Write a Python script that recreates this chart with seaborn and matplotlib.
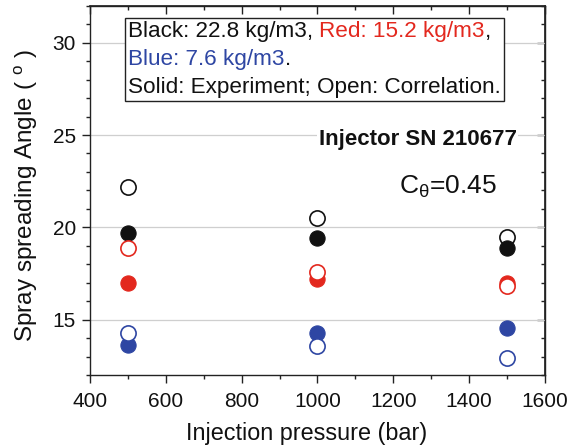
import matplotlib
matplotlib.use("Agg")
import matplotlib.pyplot as plt
import seaborn as sns
import pandas as pd
from matplotlib.offsetbox import TextArea, HPacker, VPacker, AnchoredOffsetbox
from matplotlib.ticker import MultipleLocator

# ---- data ----
pressure = [500, 1000, 1500]
exp_black = [19.7, 19.4, 18.9]
cor_black = [22.2, 20.5, 19.5]
exp_red = [17.0, 17.2, 17.0]
cor_red = [18.9, 17.6, 16.8]
exp_blue = [13.6, 14.3, 14.55]
cor_blue = [14.3, 13.55, 12.9]

x_ticks = [400, 600, 800, 1000, 1200, 1400, 1600]
y_ticks = [15, 20, 25, 30]

BLACK = "#111111"
RED = "#e3281e"
BLUE = "#2e46a3"

sns.set_theme(style="white")
plt.rcParams["font.family"] = ["Liberation Sans", "DejaVu Sans"]
plt.rcParams["mathtext.fontset"] = "custom"
plt.rcParams["mathtext.rm"] = "Liberation Sans"

fig = plt.figure(figsize=(5.73, 4.48), dpi=100)
ax = fig.add_axes([0.157, 0.163, 0.794, 0.824])

series = [
    (cor_black, BLACK, False),
    (exp_black, BLACK, True),
    (exp_red, RED, True),
    (cor_red, RED, False),
    (exp_blue, BLUE, True),
    (cor_blue, BLUE, False),
]
for vals, col, solid in series:
    df = pd.DataFrame({"p": pressure, "a": vals})
    sns.scatterplot(data=df, x="p", y="a", ax=ax, s=120, marker="o",
                    facecolor=col if solid else "white",
                    edgecolor=col, linewidth=1.2 if not solid else 0.8,
                    zorder=3, legend=False)

ax.set_xlim(400, 1600)
ax.set_ylim(12, 32)
ax.set_xticks(x_ticks)
ax.set_yticks(y_ticks)
ax.xaxis.set_minor_locator(MultipleLocator(100))
ax.yaxis.set_minor_locator(MultipleLocator(1))
ax.yaxis.grid(True, color="#cfcfcf", linewidth=0.9)
ax.set_axisbelow(True)

for sp in ax.spines.values():
    sp.set_color("#222222")
    sp.set_linewidth(1.0)

ax.tick_params(axis="both", which="major", direction="out", length=6, width=1,
               labelsize=15, color="#222222", labelcolor="#111111",
               bottom=True, left=True, pad=4)
ax.tick_params(axis="x", which="major", pad=6)
ax.tick_params(axis="both", which="minor", direction="out", length=3, width=1,
               color="#222222", bottom=True, left=True)

# inward ticks on top and right
sx = ax.secondary_xaxis("top")
sx.set_xticks(x_ticks)
sx.xaxis.set_minor_locator(MultipleLocator(100))
sx.tick_params(which="major", direction="in", length=6, width=1, labeltop=False, color="#222222")
sx.tick_params(which="minor", direction="in", length=3, width=1, color="#222222")
sy = ax.secondary_yaxis("right")
sy.set_yticks(y_ticks)
sy.yaxis.set_minor_locator(MultipleLocator(1))
sy.tick_params(which="major", direction="in", length=6, width=1, labelright=False, color="#222222")
sy.tick_params(which="minor", direction="in", length=3, width=1, color="#222222")

ax.set_xlabel("Injection pressure (bar)", fontsize=16.8, color="#111111")
ax.xaxis.set_label_coords(0.477, -0.128)
ax.set_ylabel("Spray spreading Angle ( $^{\\mathregular{o}}$ )", fontsize=17.5,
              color="#111111")
ax.yaxis.set_label_coords(-0.11, 0.486)

# legend-like box
fs = 16.2
def ta(s, c):
    return TextArea(s, textprops=dict(color=c, fontsize=fs))

line1 = HPacker(children=[ta("Black: 22.8 kg/m3, ", BLACK), ta("Red: 15.2 kg/m3", RED), ta(",", BLACK)],
                pad=0, sep=0)
line2 = HPacker(children=[ta("Blue: 7.6 kg/m3", BLUE), ta(".", BLACK)], pad=0, sep=0)
line3 = HPacker(children=[ta("Solid: Experiment; Open: Correlation.", BLACK)], pad=0, sep=0)
box = VPacker(children=[line1, line2, line3], pad=0, sep=5, align="left")
anch = AnchoredOffsetbox(loc="upper left", child=box, pad=0.2, borderpad=0,
                         frameon=True, bbox_to_anchor=(0.077, 0.967),
                         bbox_transform=ax.transAxes)
anch.patch.set_edgecolor("#222222")
anch.patch.set_linewidth(1.0)
anch.patch.set_boxstyle("square", pad=0)
anch.zorder = 5
ax.add_artist(anch)

ax.text(0.938, 0.637, "Injector SN 210677", transform=ax.transAxes, fontsize=16,
        fontweight="bold", ha="right", va="center", color="#111111",
        bbox=dict(facecolor="white", edgecolor="none", pad=1))
ax.text(0.68, 0.51, "C$_{\\mathregular{θ}}$=0.45", transform=ax.transAxes, fontsize=19,
        ha="left", va="center", color="#111111")

fig.savefig("out.png", dpi=100)
